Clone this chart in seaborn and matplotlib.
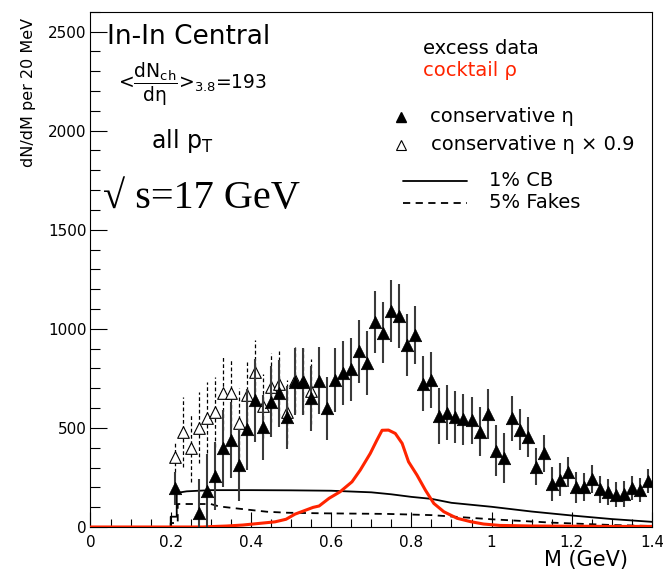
import matplotlib
matplotlib.use("Agg")
import matplotlib.pyplot as plt
from matplotlib.lines import Line2D
from matplotlib.ticker import MultipleLocator
import pandas as pd
import seaborn as sns

# ---- excess dimuons, conservative eta subtraction (20 MeV bins) ----
mass_eta = [0.21, 0.27, 0.29, 0.31, 0.33, 0.35, 0.37, 0.39, 0.41, 0.43,
            0.45, 0.47, 0.49, 0.51, 0.53, 0.55, 0.57, 0.59, 0.61, 0.63,
            0.65, 0.67, 0.69, 0.71, 0.73, 0.75, 0.77, 0.79, 0.81, 0.83,
            0.85, 0.87, 0.89, 0.91, 0.93, 0.95, 0.97, 0.99, 1.01, 1.03,
            1.05, 1.07, 1.09, 1.11, 1.13, 1.15, 1.17, 1.19, 1.21, 1.23,
            1.25, 1.27, 1.29, 1.31, 1.33, 1.35, 1.37, 1.39]
yield_eta = [195, 69, 183, 257, 397, 438, 312, 492, 640, 503,
             632, 674, 553, 733, 733, 649, 738, 598, 741, 778,
             795, 887, 828, 1035, 980, 1089, 1064, 917, 968, 724,
             741, 561, 576, 556, 543, 539, 481, 570, 385, 348,
             548, 491, 455, 305, 371, 217, 238, 277, 200, 201,
             241, 190, 177, 163, 168, 195, 188, 233]
err_eta = [84, 175, 185, 172, 193, 193, 180, 205, 210, 165,
           180, 170, 160, 168, 168, 165, 170, 158, 160, 160,
           160, 158, 162, 157, 154, 157, 160, 157, 147, 141,
           140, 140, 138, 130, 128, 118, 122, 126, 130, 128,
           114, 103, 101, 92, 94, 87, 84, 77, 78, 70,
           71, 67, 64, 62, 65, 60, 61, 62]

# ---- same, with eta contribution scaled by 0.9 ----
mass_eta09 = [0.21, 0.23, 0.25, 0.27, 0.29, 0.31, 0.33, 0.35, 0.37,
              0.39, 0.41, 0.43, 0.45, 0.47, 0.49, 0.51, 0.53, 0.55]
yield_eta09 = [354, 480, 397, 502, 551, 581, 677, 677, 526,
               665, 783, 610, 704, 721, 581, 742, 736, 685]
err_eta09 = [76, 176, 172, 180, 180, 177, 190, 173, 174,
             168, 160, 160, 175, 165, 160, 165, 165, 165]

# ---- cocktail rho ----
mass_rho = [0.0, 0.28, 0.30, 0.34, 0.38, 0.42, 0.46, 0.4875, 0.51, 0.53,
            0.555, 0.57, 0.595, 0.6225, 0.652, 0.6725, 0.6975, 0.714, 0.727,
            0.743, 0.76, 0.777, 0.793, 0.814, 0.835, 0.856, 0.881, 0.914,
            0.9475, 0.98, 1.02, 1.1, 1.2, 1.3, 1.4]
yield_rho = [0, 0, 2, 5, 10, 18, 26, 39, 65, 80,
             99, 106, 145, 178, 228, 287, 371, 438, 488,
             489, 472, 422, 329, 262, 186, 119, 77, 44,
             27, 15, 8, 5, 4, 3, 3]

# ---- 1% combinatorial background uncertainty ----
mass_cb = [0.0, 0.20, 0.20, 0.215, 0.215, 0.24, 0.30, 0.40, 0.50, 0.60,
           0.70, 0.75, 0.80, 0.85, 0.90, 1.00, 1.10, 1.20, 1.30, 1.40]
yield_cb = [0, 0, 52, 52, 172, 180, 186, 186, 185, 183,
            175, 165, 152, 142, 122, 102, 78, 58, 40, 26]

# ---- 5% fake matches ----
mass_fk = [0.20, 0.20, 0.2175, 0.2175, 0.30, 0.32, 0.385, 0.44, 0.49,
           0.58, 0.74, 0.85, 1.00, 1.15, 1.30, 1.40]
yield_fk = [0, 20, 20, 116, 116, 104, 89, 77, 72,
            69, 66, 60, 39, 22, 10, 5]

x_ticks = [0, 0.2, 0.4, 0.6, 0.8, 1.0, 1.2, 1.4]
x_tick_labels = ["0", "0.2", "0.4", "0.6", "0.8", "1", "1.2", "1.4"]
y_ticks = [0, 500, 1000, 1500, 2000, 2500]
y_tick_labels = ["0", "500", "1000", "1500", "2000", "2500"]

sns.set_theme(style="white")
plt.rcParams["font.family"] = ["DejaVu Sans"]
plt.rcParams["mathtext.fontset"] = "dejavusans"
plt.rcParams["text.color"] = "black"

W, H = 663, 571
fig = plt.figure(figsize=(W / 100, H / 100), dpi=100)
ax = fig.add_axes([90.5 / W, 44 / H, 561.5 / W, 515.3 / H])


def fxy(px, py):
    return px / W, 1 - py / H


RED = "#ff2400"

df_eta = pd.DataFrame({"m": mass_eta, "y": yield_eta, "e": err_eta})
df_eta09 = pd.DataFrame({"m": mass_eta09, "y": yield_eta09, "e": err_eta09})
df_rho = pd.DataFrame({"m": mass_rho, "y": yield_rho})
df_cb = pd.DataFrame({"m": mass_cb, "y": yield_cb})
df_fk = pd.DataFrame({"m": mass_fk, "y": yield_fk})

# systematic curves
sns.lineplot(data=df_cb, x="m", y="y", ax=ax, estimator=None, sort=False,
             color="black", lw=1.3, zorder=2)
sns.lineplot(data=df_fk, x="m", y="y", ax=ax, estimator=None, sort=False,
             color="black", lw=1.3, linestyle=(0, (4, 3)), zorder=2)
sns.lineplot(data=df_rho, x="m", y="y", ax=ax, estimator=None, sort=False,
             color=RED, lw=2.2, zorder=3)

# eta x 0.9 (open triangles, dashed errors)
eb = ax.errorbar(df_eta09["m"], df_eta09["y"], yerr=df_eta09["e"], fmt="none",
                 ecolor="black", elinewidth=0.9, capsize=0, zorder=4)
for c in eb[2]:
    c.set_linestyle((0, (3, 2)))
sns.scatterplot(data=df_eta09, x="m", y="y", ax=ax, marker="^", s=70,
                facecolor="white", edgecolor="black", linewidth=0.8, zorder=5)

# conservative eta (filled triangles, solid errors)
ax.errorbar(df_eta["m"], df_eta["y"], yerr=df_eta["e"], fmt="none",
            ecolor="#3a3a3a", elinewidth=1.5, capsize=0, zorder=6)
sns.scatterplot(data=df_eta, x="m", y="y", ax=ax, marker="^", s=80,
                color="black", edgecolor="black", linewidth=0.5, zorder=7)

ax.set_xlim(0, 1.4)
ax.set_ylim(0, 2600)
ax.set_xticks(x_ticks)
ax.set_xticklabels(x_tick_labels)
ax.set_yticks(y_ticks)
ax.set_yticklabels(y_tick_labels)
ax.xaxis.set_minor_locator(MultipleLocator(0.05))
ax.yaxis.set_minor_locator(MultipleLocator(100))
ax.tick_params(axis="both", which="both", direction="in", top=False,
               right=False, bottom=True, left=True, color="black",
               width=0.8, labelsize=11, labelcolor="black")
ax.tick_params(axis="x", which="major", length=11, pad=6)
ax.tick_params(axis="x", which="minor", length=5.5)
ax.tick_params(axis="y", which="major", length=12, pad=3)
ax.tick_params(axis="y", which="minor", length=7)
for s in ax.spines.values():
    s.set_color("black")
    s.set_linewidth(0.8)
ax.set_xlabel("")
ax.set_ylabel("")

# axis titles
fig.text(*fxy(29, 18), "dN/dM per 20 MeV", rotation=90, ha="center",
         va="top", fontsize=11.5, color="black")
fig.text(*fxy(628, 560), "M (GeV)", ha="right", va="center", fontsize=15,
         color="black")

# annotations
fig.text(*fxy(107, 44), "In-In Central", ha="left", va="baseline",
         fontsize=19, color="black")
fig.text(*fxy(118, 84),
         r"<$\dfrac{\mathrm{dN_{ch}}}{\mathrm{d\eta}}$>$_{3.8}$=193",
         ha="left", va="center", fontsize=13.5, color="black")
fig.text(*fxy(151, 148), r"all p$_{\mathrm{T}}$", ha="left", va="baseline",
         fontsize=17, color="black")
fig.text(*fxy(103, 208), "\u221a s=17 GeV", ha="left", va="baseline",
         fontsize=29, family=["Liberation Serif", "DejaVu Serif"],
         color="black")

# key
fig.text(*fxy(423, 48), "excess data", ha="left", va="center", fontsize=14,
         color="black")
fig.text(*fxy(423, 71), "cocktail \u03c1", ha="left", va="center",
         fontsize=14, color=RED)
fig.add_artist(Line2D([401 / W], [1 - 117 / H], transform=fig.transFigure,
                      marker="^", ms=7, color="black", ls="none"))
fig.text(*fxy(430, 116), "conservative \u03b7", ha="left", va="center",
         fontsize=14, color="black")
fig.add_artist(Line2D([401 / W], [1 - 145 / H], transform=fig.transFigure,
                      marker="^", ms=7, mfc="white", mec="black", mew=0.8,
                      ls="none"))
fig.text(*fxy(431, 145), "conservative \u03b7 \u00d7 0.9", ha="left",
         va="center", fontsize=14, color="black")
fig.add_artist(Line2D([403 / W, 467 / W], [1 - 181 / H, 1 - 181 / H],
                      transform=fig.transFigure, color="black", lw=1.3))
fig.text(*fxy(489, 180), "1% CB", ha="left", va="center", fontsize=14,
         color="black")
fig.add_artist(Line2D([403 / W, 467 / W], [1 - 203 / H, 1 - 203 / H],
                      transform=fig.transFigure, color="black", lw=1.3,
                      ls=(0, (4, 3))))
fig.text(*fxy(489, 203), "5% Fakes", ha="left", va="center", fontsize=14,
         color="black")

fig.savefig("out.png", dpi=100)
